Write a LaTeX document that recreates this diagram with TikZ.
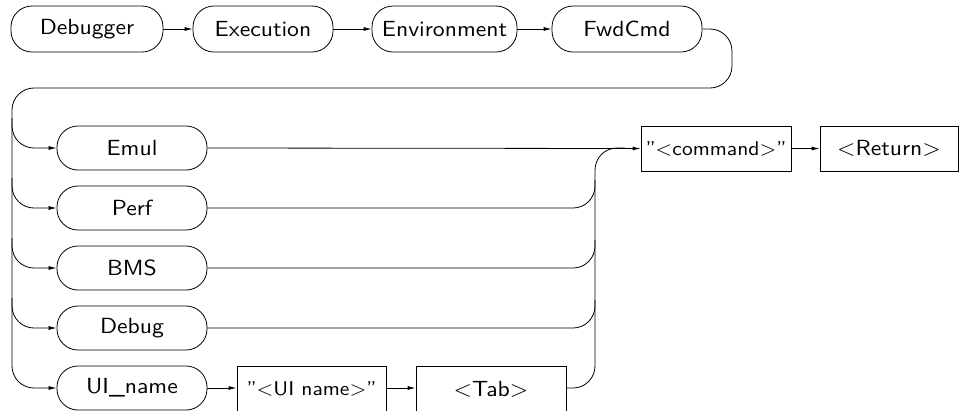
\documentclass[tikz,border=0pt]{standalone}
\usepackage{fontspec}
\setsansfont{lmsans10-regular.otf}[FakeStretch=1.08]
\usetikzlibrary{arrows.meta}
\begin{document}
\begin{tikzpicture}[x=1bp,y=-1bp,
  lbl/.style={font=\sffamily\fontsize{22}{26}\selectfont},
  small/.style={font=\sffamily\fontsize{20}{24}\selectfont},
  pill/.style={lbl, draw, line width=0.8bp, rounded corners=21bp, minimum width=150bp, minimum height=44bp, inner sep=0pt},
  termbox/.style={lbl, draw, line width=0.8bp, rectangle, minimum width=150bp, minimum height=45bp, inner sep=0pt},
  flow/.style={line width=0.8bp, rounded corners=22bp},
  arr/.style={-{Latex[length=8bp,width=4bp]}}]
\clip (0,0) rectangle (959,410);
% top row
\node[pill, minimum width=152bp, minimum height=46bp] (dbg) at (87,29) {Debugger};
\node[pill, minimum width=140bp, minimum height=46bp] (exe) at (263,29) {Execution};
\node[pill, minimum width=145bp, minimum height=46bp] (env) at (444.5,29) {Environment};
\node[pill, minimum width=150bp, minimum height=46bp] (fwd) at (627,29) {FwdCmd};
% option rows
\node[pill] (emul) at (132,148) {Emul};
\node[pill] (perf) at (132,208) {Perf};
\node[pill] (bms) at (132,268) {BMS};
\node[pill] (debug) at (132,328) {Debug};
\node[pill] (ui) at (132,388) {UI\_name};
% boxes
\node[termbox, small] (cmd) at (716,148.5) {"<command>"};
\node[termbox, minimum width=138bp] (ret) at (889,148.5) {<Return>};
\node[termbox, small, minimum width=149bp, minimum height=46bp] (uin) at (311.5,389) {"<UI name>"};
\node[termbox, minimum height=46bp] (tab) at (491,389) {<Tab>};
% coordinates for the loop
\coordinate (c1) at (732,29);
\coordinate (c2) at (732,88);
\coordinate (c3) at (12,88);
\coordinate (c4) at (12,388);
% top row connectors
\draw[flow,arr] (dbg.east) -- (exe.west);
\draw[flow,arr] (exe.east) -- (env.west);
\draw[flow,arr] (env.east) -- (fwd.west);
% loop back and left rail
\draw[flow,arr] (fwd.east) -- (c1) -- (c2) -- (c3) -- (c4) -- (ui.west);
\coordinate (b1) at (12,118);
\coordinate (b2) at (12,178);
\coordinate (b3) at (12,238);
\coordinate (b4) at (12,298);
\draw[flow,arr] (b1) -- (b1 |- emul.west) -- (emul.west);
\draw[flow,arr] (b2) -- (b2 |- perf.west) -- (perf.west);
\draw[flow,arr] (b3) -- (b3 |- bms.west) -- (bms.west);
\draw[flow,arr] (b4) -- (b4 |- debug.west) -- (debug.west);
% right collection
\coordinate (r0) at (595,148);
\coordinate (r1) at (595,180);
\coordinate (r2) at (595,240);
\coordinate (r3) at (595,300);
\draw[flow,arr] (emul.east) -- (cmd.west);
\draw[flow] (perf.east) -- (r1 |- perf.east) -- (r1);
\draw[flow] (bms.east) -- (r2 |- bms.east) -- (r2);
\draw[flow] (debug.east) -- (r3 |- debug.east) -- (r3);
\draw[flow] (tab.east |- ui.east) -- (r0 |- ui.east) -- (r0) -- (625,148);
% UI name row
\draw[flow,arr] (ui.east) -- (ui.east -| uin.west);
\draw[flow,arr] (uin.east |- ui.east) -- (tab.west |- ui.east);
% command to return
\draw[flow,arr] (cmd.east) -- (ret.west);
\end{tikzpicture}
\end{document}
